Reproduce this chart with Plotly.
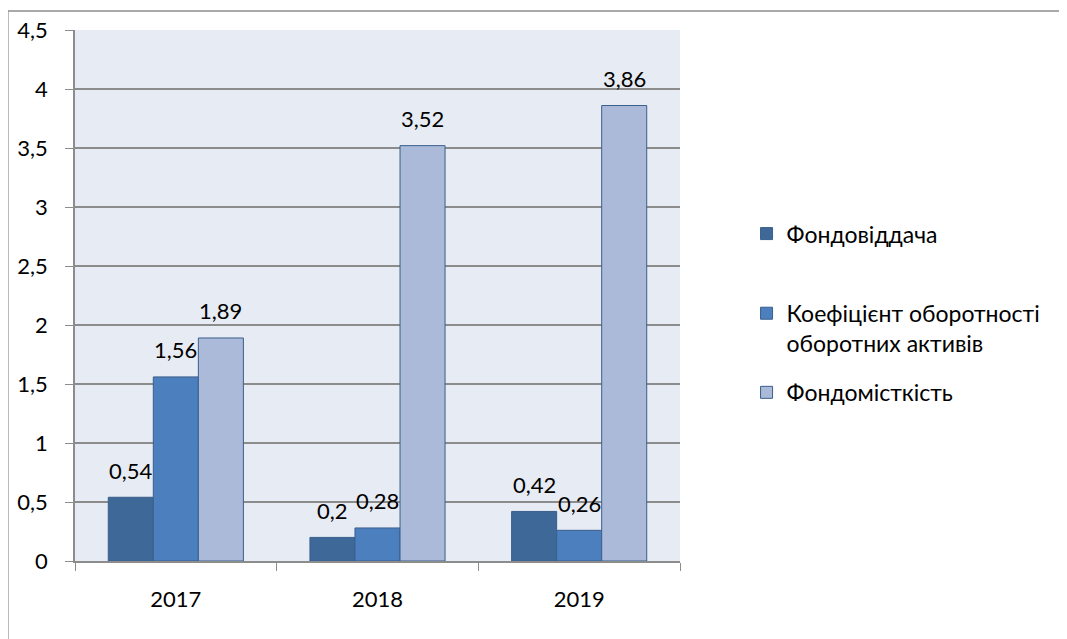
import plotly.graph_objects as go

years = ["2017", "2018", "2019"]
fondovidacha = [0.54, 0.2, 0.42]
koef_oborotnosti = [1.56, 0.28, 0.26]
fondomistkist = [1.89, 3.52, 3.86]

series = [
    ("Фондовіддача", fondovidacha, "#3E6898"),
    ("Коефіцієнт оборотності<br>оборотних активів", koef_oborotnosti, "#4B7FBD"),
    ("Фондомісткість", fondomistkist, "#AABAD8"),
]

FONT = "Lato, Carlito, Liberation Sans, sans-serif"
grid = "#8C8C8C"
legend_ids = ["legend", "legend2", "legend3"]
legend_tops = [0.657, 0.507, 0.358]

fig = go.Figure()
labels = []
for i, (name, vals, color) in enumerate(series):
    fig.add_trace(go.Bar(
        name=name,
        x=years,
        y=vals,
        legend=legend_ids[i],
        marker=dict(color=color, line=dict(color="#3A5F8C", width=1)),
    ))
    # value labels sit a bit above the bars, like the Excel original
    # (category axis: annotation x is the category index)
    for j, v in enumerate(vals):
        labels.append(dict(
            x=j, y=v, xref="x", yref="y",
            text=str(v).replace(".", ","),
            showarrow=False, yanchor="middle",
            xshift=(i - 1) * 45, yshift=27,
            font=dict(size=22, color="black", family=FONT),
        ))

# one legend box per entry so the uneven Excel spacing can be kept
legends = {
    lid: dict(
        x=1.11, y=top, xanchor="left", yanchor="top", valign="top",
        font=dict(size=23), bgcolor="rgba(0,0,0,0)",
    )
    for lid, top in zip(legend_ids, legend_tops)
}

fig.update_layout(
    width=1067,
    height=639,
    barmode="group",
    bargap=0.33,
    bargroupgap=0,
    separators=", ",
    font=dict(family=FONT, size=22, color="black"),
    paper_bgcolor="white",
    plot_bgcolor="#E7EBF3",
    margin=dict(l=67, r=395, t=22, b=86),
    showlegend=True,
    xaxis=dict(
        type="category", automargin=False,
        showline=True, linecolor=grid, linewidth=1.5,
        ticks="outside", ticklen=8, tickcolor=grid, tickson="boundaries",
        ticklabelstandoff=18, tickangle=0,
    ),
    yaxis=dict(
        range=[0, 4.5], dtick=0.5, showgrid=True, gridcolor=grid, gridwidth=1.5,
        showline=True, linecolor=grid, linewidth=1.5, zeroline=False, automargin=False,
        ticks="outside", ticklen=8, tickcolor=grid, ticklabelstandoff=13,
    ),
    annotations=labels,
    shapes=[
        dict(type="line", xref="paper", yref="paper", x0=-0.111, x1=1.7, y0=1.036, y1=1.036,
             line=dict(color="#8C8C8C", width=1.5)),
        dict(type="line", xref="paper", yref="paper", x0=-0.111, x1=-0.111, y0=-0.2, y1=1.036,
             line=dict(color="#8C8C8C", width=1.5)),
    ],
    **legends,
)

fig.write_html("out.html")
